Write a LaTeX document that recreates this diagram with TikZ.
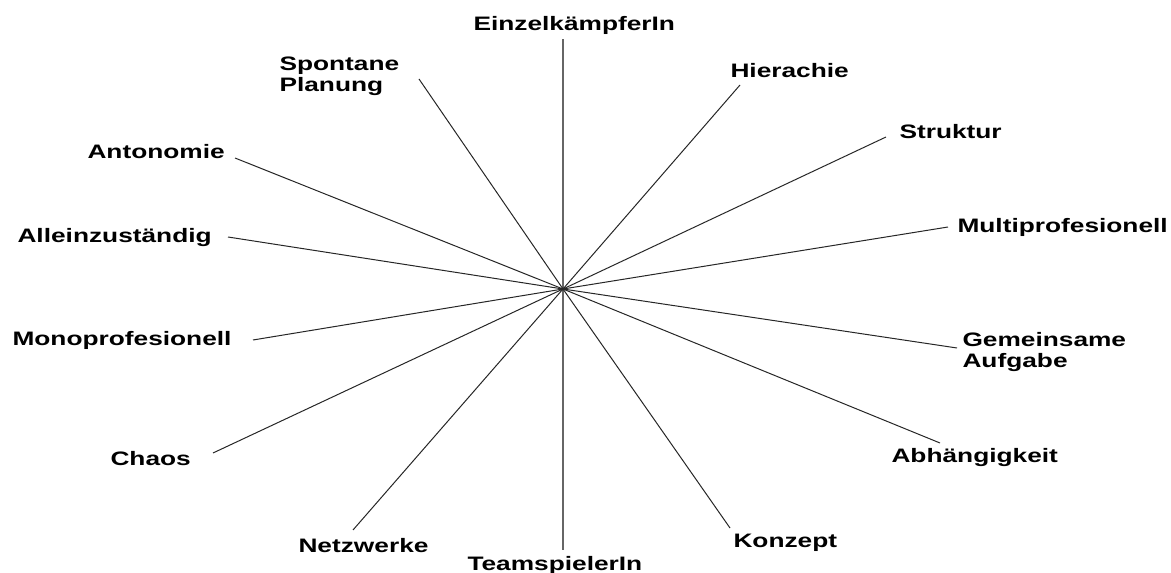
\documentclass[tikz,border=0pt]{standalone}
\usepackage{fontspec}
\newfontfamily\lblfont{Liberation Sans}[FakeStretch=1.35]
\usepackage{tikz}

\begin{document}
\begin{tikzpicture}[x=0.75pt, y=-0.75pt, line width=0.75pt]
  \tikzstyle{lbl}=[anchor=base west, inner sep=0pt, align=left,
    font=\lblfont\bfseries\fontsize{14.6pt}{15.75pt}\selectfont]
  \tikzstyle{ray}=[draw=black!85]
  \tikzstyle{axis}=[draw=black!60, line width=1.3pt]

  \useasboundingbox (0,0) rectangle (1171,573);

  % Centre and line ends
  \coordinate (c) at (563,289);
  \coordinate (e-ez) at (563,39);
  \coordinate (e-sp) at (419,79);
  \coordinate (e-hi) at (740,85);
  \coordinate (e-st) at (886,137);
  \coordinate (e-mp) at (948,227);
  \coordinate (e-ga) at (957,348);
  \coordinate (e-ab) at (940,443);
  \coordinate (e-ko) at (730,528);
  \coordinate (e-ts) at (563,550);
  \coordinate (e-nw) at (353,530);
  \coordinate (e-ch) at (213,453);
  \coordinate (e-mo) at (253,340);
  \coordinate (e-al) at (228,237);
  \coordinate (e-an) at (235,158);

  % Labels, top and right side
  \node[lbl] (ez) at (473,31) {EinzelkämpferIn};
  \node[lbl] (sp) at (279,92) {Spontane\\Planung};
  \node[lbl] (hi) at (730,78) {Hierachie};
  \node[lbl] (st) at (899,139) {Struktur};
  \node[lbl] (mp) at (957,233) {Multiprofesionell};
  \node[lbl] (ga) at (962,368) {Gemeinsame\\Aufgabe};
  \node[lbl] (ab) at (891,462) {Abhängigkeit};
  \node[lbl] (ko) at (733,547) {Konzept};

  % Labels, bottom and left side
  \node[lbl] (ts) at (467,570) {TeamspielerIn};
  \node[lbl] (nw) at (298,552) {Netzwerke};
  \node[lbl] (ch) at (110,465) {Chaos};
  \node[lbl] (mo) at (12,346) {Monoprofesionell};
  \node[lbl] (al) at (17,243) {Alleinzuständig};
  \node[lbl] (an) at (87,159) {Antonomie};

  % Rays
  \draw[axis] (c) -- (e-ez);
  \draw[axis] (c) -- (e-ts);
  \draw[ray] (c) -- (e-sp);
  \draw[ray] (c) -- (e-hi);
  \draw[ray] (c) -- (e-st);
  \draw[ray] (c) -- (e-mp);
  \draw[ray] (c) -- (e-ga);
  \draw[ray] (c) -- (e-ab);
  \draw[ray] (c) -- (e-ko);
  \draw[ray] (c) -- (e-nw);
  \draw[ray] (c) -- (e-ch);
  \draw[ray] (c) -- (e-mo);
  \draw[ray] (c) -- (e-al);
  \draw[ray] (c) -- (e-an);
\end{tikzpicture}
\end{document}
